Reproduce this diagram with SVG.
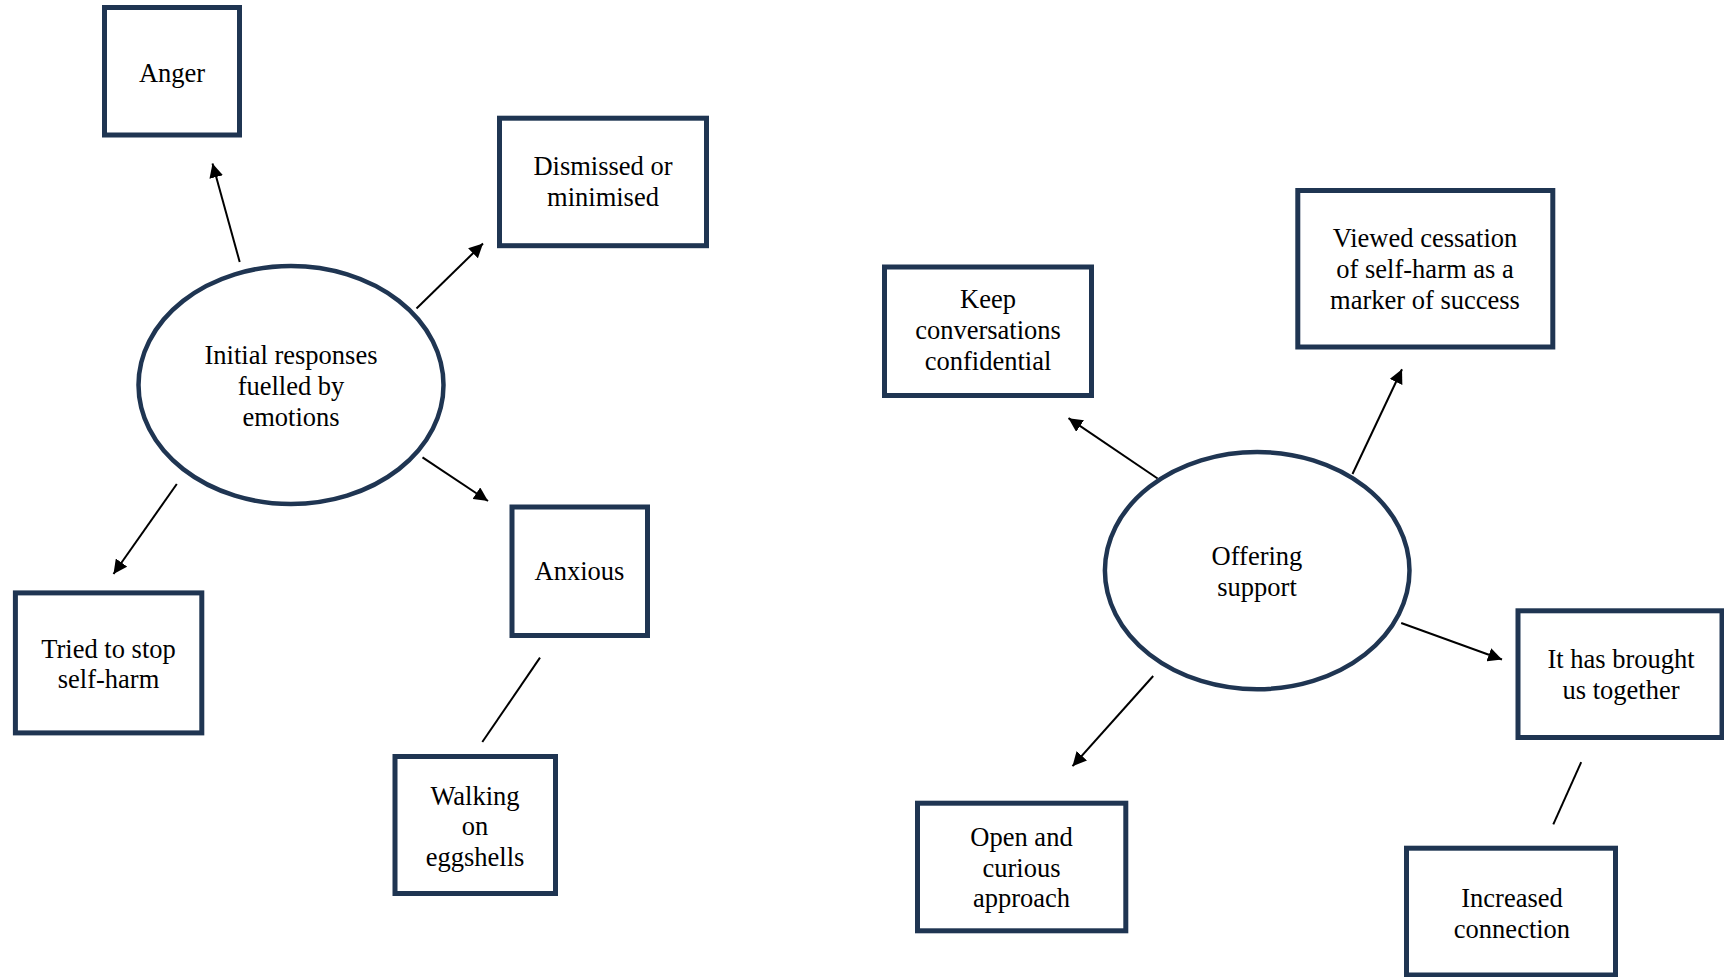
<svg xmlns="http://www.w3.org/2000/svg" width="1724" height="977" viewBox="0 0 1724 977">
<style>
.box{fill:#fff;stroke:#1f3552;stroke-width:5}
.ell{fill:#fff;stroke:#1f3552;stroke-width:4.5}
.t{font-family:"Liberation Serif","Times New Roman",serif;font-size:26.5px;fill:#000;text-anchor:middle}
.c{stroke:#000;stroke-width:2;fill:none}
.a{marker-end:url(#arr)}
</style>
<defs>
<marker id="arr" markerUnits="userSpaceOnUse" markerWidth="15" markerHeight="14" refX="14" refY="7" orient="auto">
<path d="M0,0 L14,7 L0,14 z" fill="#000"/>
</marker>
</defs>
<rect width="1724" height="977" fill="#fff"/>
<g id="connectors">
<line class="c a" x1="239.7" y1="262" x2="212.5" y2="163.5"/>
<line class="c a" x1="416.5" y1="308.5" x2="483" y2="243.5"/>
<line class="c a" x1="422.5" y1="457.3" x2="488" y2="501"/>
<line class="c a" x1="176.8" y1="484" x2="113.5" y2="574"/>
<line class="c" x1="540" y1="657.6" x2="482.3" y2="742"/>
<line class="c a" x1="1157.6" y1="478.5" x2="1068.5" y2="418.2"/>
<line class="c a" x1="1352.5" y1="474" x2="1402" y2="369.3"/>
<line class="c a" x1="1401.2" y1="623" x2="1502" y2="659.5"/>
<line class="c a" x1="1153.2" y1="676" x2="1072.5" y2="766.2"/>
<line class="c" x1="1581.2" y1="762.2" x2="1553.3" y2="824.3"/>
</g>
<g id="anger">
<rect class="box" x="104.5" y="7.5" width="135" height="127.5"/>
<text class="t" x="172" y="82">Anger</text>
</g>
<g id="dismissed">
<rect class="box" x="499.5" y="118.2" width="207" height="127.5"/>
<text class="t" x="603" y="175">Dismissed or</text>
<text class="t" x="603" y="205.5">minimised</text>
</g>
<g id="initial">
<ellipse class="ell" cx="291" cy="385" rx="152.5" ry="119"/>
<text class="t" x="291" y="363.5">Initial responses</text>
<text class="t" x="291" y="394.5">fuelled by</text>
<text class="t" x="291" y="425.5">emotions</text>
</g>
<g id="anxious">
<rect class="box" x="512" y="507" width="135.5" height="128.5"/>
<text class="t" x="579.5" y="580">Anxious</text>
</g>
<g id="tried">
<rect class="box" x="15.4" y="592.9" width="186.4" height="140"/>
<text class="t" x="108.5" y="657.6">Tried to stop</text>
<text class="t" x="108.5" y="688">self-harm</text>
</g>
<g id="walking">
<rect class="box" x="395" y="756.5" width="160.5" height="137"/>
<text class="t" x="475" y="804.5">Walking</text>
<text class="t" x="475" y="835">on</text>
<text class="t" x="475" y="865.5">eggshells</text>
</g>
<g id="keep">
<rect class="box" x="884.5" y="267" width="207" height="128.5"/>
<text class="t" x="988" y="308">Keep</text>
<text class="t" x="988" y="339">conversations</text>
<text class="t" x="988" y="370">confidential</text>
</g>
<g id="viewed">
<rect class="box" x="1297.8" y="190.5" width="255" height="156.5"/>
<text class="t" x="1425" y="247">Viewed cessation</text>
<text class="t" x="1425" y="278">of self-harm as a</text>
<text class="t" x="1425" y="308.5">marker of success</text>
</g>
<g id="offering">
<ellipse class="ell" cx="1257.2" cy="570.6" rx="152.3" ry="118.6"/>
<text class="t" x="1257" y="565">Offering</text>
<text class="t" x="1257" y="596">support</text>
</g>
<g id="together">
<rect class="box" x="1518" y="610.8" width="204" height="126.7"/>
<text class="t" x="1621" y="668.3">It has brought</text>
<text class="t" x="1621" y="698.8">us together</text>
</g>
<g id="open">
<rect class="box" x="917.5" y="803.2" width="208.3" height="127.6"/>
<text class="t" x="1021.5" y="846">Open and</text>
<text class="t" x="1021.5" y="876.5">curious</text>
<text class="t" x="1021.5" y="907">approach</text>
</g>
<g id="increased">
<rect class="box" x="1406.5" y="848.2" width="209" height="126.8"/>
<text class="t" x="1512" y="906.7">Increased</text>
<text class="t" x="1512" y="937.5">connection</text>
</g>
</svg>
